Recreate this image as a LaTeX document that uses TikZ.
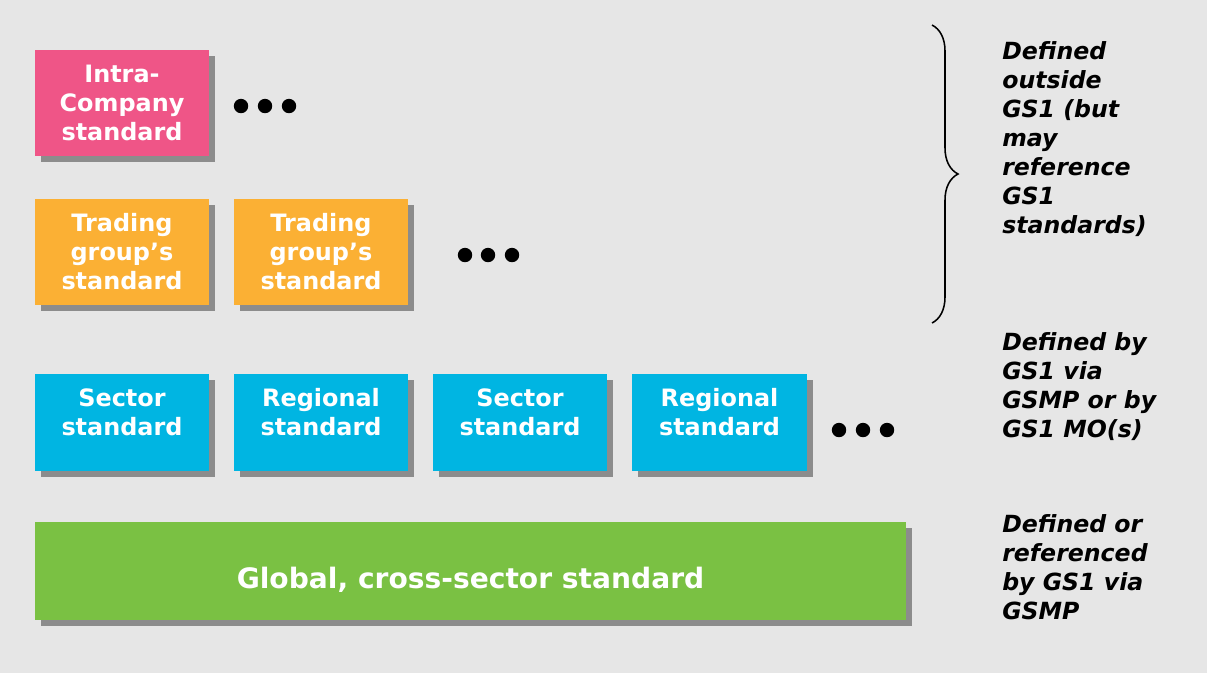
\documentclass[tikz,border=0pt]{standalone}
\usepackage{fontspec}
\setmainfont{DejaVu Sans}
\usetikzlibrary{shadows, decorations.pathreplacing}
\definecolor{gsPink}{HTML}{EF5587}
\definecolor{gsOrange}{HTML}{FBB034}
\definecolor{gsBlue}{HTML}{00B5E2}
\definecolor{gsGreen}{HTML}{7AC143}
\definecolor{gsShadow}{HTML}{8C8C8C}
\definecolor{gsBack}{HTML}{E6E6E6}
\tikzset{
  stdbox/.style={text=white, align=center, inner sep=0pt, minimum width=4.35cm,
    font=\fontsize{17}{20.6}\selectfont\bfseries,
    drop shadow={shadow xshift=0.15cm, shadow yshift=-0.15cm, fill=gsShadow, opacity=1}},
  blackdot/.style={circle, fill=black, minimum size=0.36cm, inner sep=0pt},
  note/.style={anchor=north west, align=left, inner sep=0pt,
    font=\fontsize{16.8}{20.6}\selectfont\bfseries\itshape}
}
\begin{document}
\begin{tikzpicture}[x=0.025cm, y=-0.025cm]
    \fill[gsBack] (0,0) rectangle (1207,673);
    \useasboundingbox (0,0) rectangle (1207,673);

    \node[stdbox, fill=gsPink, minimum height=2.65cm] (intra) at (122,103) {Intra-\\Company\\standard};

    \node[stdbox, fill=gsOrange, minimum height=2.65cm] (tradeA) at (122,252) {Trading\\group’s\\standard};
    \node[stdbox, fill=gsOrange, minimum height=2.65cm] (tradeB) at (321,252) {Trading\\group’s\\standard};

    \node[stdbox, fill=gsBlue, minimum height=2.43cm] (sectorA) at (122,422.5) {Sector\\standard\\[-6pt]\mbox{}};
    \node[stdbox, fill=gsBlue, minimum height=2.43cm] (regionA) at (321,422.5) {Regional\\standard\\[-6pt]\mbox{}};
    \node[stdbox, fill=gsBlue, minimum height=2.43cm] (sectorB) at (520,422.5) {Sector\\standard\\[-6pt]\mbox{}};
    \node[stdbox, fill=gsBlue, minimum height=2.43cm] (regionB) at (719.5,422.5) {Regional\\standard\\[-6pt]\mbox{}};

    \node[stdbox, fill=gsGreen, minimum width=21.78cm, minimum height=2.45cm,
      font=\fontsize{20}{24}\selectfont\bfseries] (global) at (470.5,571) {\mbox{}\\[4pt]Global, cross-sector standard};

    \foreach \i/\x in {1/241, 2/265, 3/289}
      \node[blackdot] (dotsA\i) at (\x,106) {};
    \foreach \i/\x in {1/465, 2/488, 3/512}
      \node[blackdot] (dotsB\i) at (\x,255) {};
    \foreach \i/\x in {1/839, 2/863, 3/887}
      \node[blackdot] (dotsC\i) at (\x,430) {};

    \coordinate (braceTop) at (932,25);
    \coordinate (braceBot) at (932,323);
    \draw[decorate, decoration={brace, amplitude=0.65cm}, line width=1.1pt] (braceTop) -- (braceBot);

    \node[note] (noteOutside) at (1002,41) {Defined\\outside\\GS1 (but\\may\\reference\\GS1\\standards)};
    \node[note] (noteSector) at (1002,332) {Defined by\\GS1 via\\GSMP or by\\GS1 MO(s)};
    \node[note] (noteGlobal) at (1002,514) {Defined or\\referenced\\by GS1 via\\GSMP};
\end{tikzpicture}
\end{document}
